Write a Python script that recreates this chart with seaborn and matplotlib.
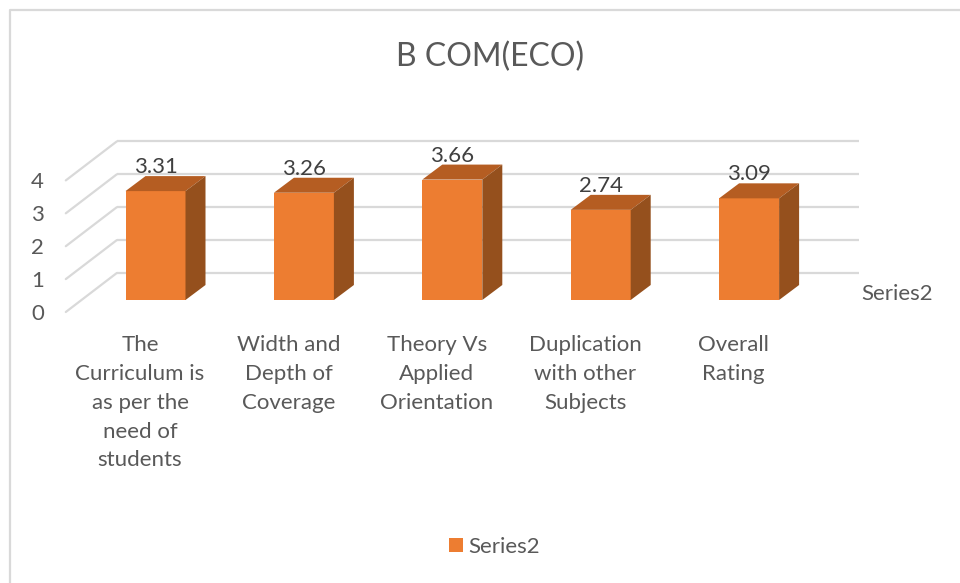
import matplotlib
matplotlib.use('Agg')
import matplotlib.pyplot as plt
import matplotlib.transforms as mtrans
from matplotlib.lines import Line2D
from matplotlib.patches import ConnectionPatch, Polygon
import pandas as pd
import seaborn as sns

categories = ['The\nCurriculum is\nas per the\nneed of\nstudents',
              'Width and\nDepth of\nCoverage',
              'Theory Vs\nApplied\nOrientation',
              'Duplication\nwith other\nSubjects',
              'Overall\nRating']
scores = [3.31, 3.26, 3.66, 2.74, 3.09]
y_ticks = [0, 1, 2, 3, 4]
series_name = 'Series2'

W, H = 960, 583
FRONT = '#ED7D31'
TOP = '#B55D22'
SIDE = '#95501D'
GRID = '#D9D9D9'
TEXT = '#595959'

sns.set_theme(style='white')
plt.rcParams['font.family'] = ['Lato', 'DejaVu Sans']

fig = plt.figure(figsize=(W / 100, H / 100), dpi=100)
# axes box is the plane the bars stand on, in reference pixels
left, right, bottom, top = 81.3, 823.3, 300, 300 - 4 * 32.9
ax = fig.add_axes([left / W, 1 - bottom / H, (right - left) / W, (bottom - top) / H])

df = pd.DataFrame({'Criterion': categories, 'Score': scores})
sns.barplot(data=df, x='Criterion', y='Score', color=FRONT, saturation=1, linewidth=0,
            width=60 / 148.4, label=series_name, legend=True, ax=ax, zorder=3)
ax.set_xlim(-0.5, 4.5)
ax.set_ylim(0, 4)
ax.set_xlabel('')
ax.set_ylabel('')
for s in ax.spines.values():
    s.set_visible(False)


def shifted(dx, dy):
    return mtrans.offset_copy(ax.transData, fig=fig, x=dx, y=dy, units='dots')


# 3d walls: back wall gridlines and the diagonals to the front plane
back = shifted(35.5, 27)
front = shifted(-15.5, -12)
ax.hlines(y_ticks, -0.5, 4.5, color=GRID, lw=1.6, transform=back, clip_on=False, zorder=1)
for v in y_ticks:
    ax.add_artist(ConnectionPatch((-0.5, v), (-0.5, v), coordsA=front, coordsB=back,
                                  color=GRID, lw=1.6, zorder=1))

# top and side faces built from the bar patches
inv = ax.transData.inverted()
dx, dy = inv.transform((20, 15)) - inv.transform((0, 0))
for bar, val in zip(ax.patches, scores):
    x0, x1 = bar.get_x(), bar.get_x() + bar.get_width()
    ax.add_patch(Polygon([(x0, val), (x1, val), (x1 + dx, val + dy), (x0 + dx, val + dy)],
                         fc=TOP, ec='none', clip_on=False, zorder=3))
    ax.add_patch(Polygon([(x1, 0), (x1, val), (x1 + dx, val + dy), (x1 + dx, dy)],
                         fc=SIDE, ec='none', clip_on=False, zorder=3))
    ax.annotate(f'{val:.2f}', ((x0 + x1) / 2, val), xytext=(0, 24), textcoords='offset pixels',
                ha='center', va='center', fontsize=16, color='#404040', zorder=4)

ax.set_yticks(y_ticks)
ax.tick_params(axis='y', length=0, pad=27, labelsize=16, labelcolor=TEXT)
ax.tick_params(axis='x', length=0, pad=25.5, labelsize=16, labelcolor=TEXT)
for lab in ax.get_yticklabels():
    lab.set_transform(lab.get_transform() + mtrans.ScaledTranslation(0, -12 / 100, fig.dpi_scale_trans))
for lab in ax.get_xticklabels():
    lab.set_linespacing(1.545)
    lab.set_transform(lab.get_transform() + mtrans.ScaledTranslation(-15.5 / 100, 0, fig.dpi_scale_trans))

fig.text(490.5 / W, 1 - 57 / H, 'B COM(ECO)', ha='center', va='center', fontsize=23, color=TEXT)
fig.text(861 / W, 1 - 294 / H, series_name, ha='left', va='center', fontsize=16, color=TEXT)

handles, labels = ax.get_legend_handles_labels()
ax.legend(handles[:1], labels[:1], loc='center', bbox_to_anchor=(494.5 / W, 1 - 547 / H),
          bbox_transform=fig.transFigure, frameon=False, fontsize=16, labelcolor=TEXT,
          handlelength=0.63, handleheight=0.63, handletextpad=0.22)

# chart frame: only the left and top edges show in the reference
fig.add_artist(Line2D([10 / W, 10 / W, 1], [0, 1 - 9.5 / H, 1 - 9.5 / H], color=GRID, lw=1.6,
                      transform=fig.transFigure))

fig.savefig('out.png', dpi=100, facecolor='white')
